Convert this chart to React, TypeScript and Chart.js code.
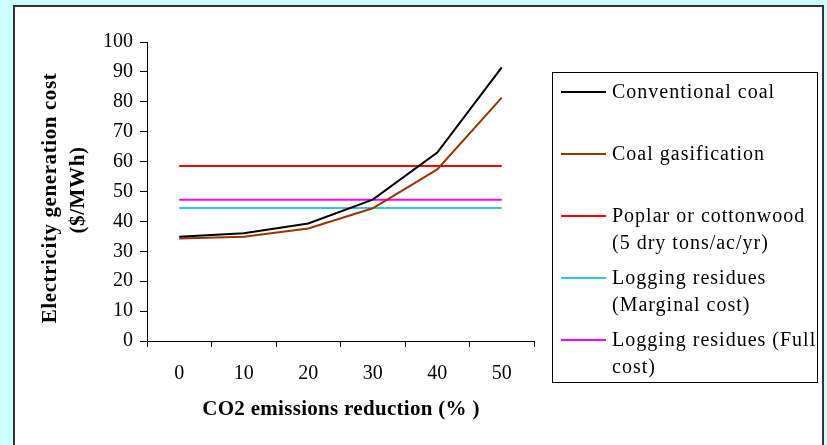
import React, { useEffect, useRef } from "react";
import { Chart, registerables } from "chart.js";

Chart.register(...registerables);

const categories = ["0", "10", "20", "30", "40", "50"];
const conventionalCoal = [34.9, 36, 39.3, 47.3, 63, 91.5];
const coalGasification = [34.3, 34.9, 37.6, 44.4, 57.4, 81.4];
const poplarCottonwood = [58.5, 58.5, 58.5, 58.5, 58.5, 58.5];
const loggingMarginal = [44.5, 44.5, 44.5, 44.5, 44.5, 44.5];
const loggingFull = [47.2, 47.2, 47.2, 47.2, 47.2, 47.2];

const seriesLabels = [
  "Conventional coal",
  "Coal gasification",
  "Poplar or cottonwood (5 dry tons/ac/yr)",
  "Logging residues (Marginal cost)",
  "Logging residues (Full cost)",
];
const legendRows = [
  ["Conventional coal"],
  ["Coal gasification"],
  ["Poplar or cottonwood", "(5 dry tons/ac/yr)"],
  ["Logging residues", "(Marginal cost)"],
  ["Logging residues (Full", "cost)"],
];
const seriesColors = ["#000000", "#993300", "#ff0000", "#33cccc", "#ff00ff"];
const yTitleLines = ["Electricity generation cost", "($/MWh)"];
const xTitle = "CO2 emissions reduction (% )";

const FONT = "'Liberation Serif', 'Times New Roman', serif";

const overlayPlugin = {
  id: "overlay",
  afterDraw(chart: any) {
    const ctx = chart.ctx;
    ctx.save();
    ctx.fillStyle = "#000";
    ctx.textAlign = "center";
    ctx.textBaseline = "middle";
    // y title (two rotated lines)
    ctx.font = `bold 21px ${FONT}`;
    (ctx as any).letterSpacing = "0.6px";
    ctx.save();
    ctx.translate(51, 198);
    ctx.rotate(-Math.PI / 2);
    ctx.fillText(yTitleLines[0], 0, 0);
    ctx.fillText(yTitleLines[1], 8, 28);
    ctx.restore();
    // x title
    (ctx as any).letterSpacing = "0.3px";
    ctx.fillText(xTitle, 341, 410);

    // legend
    ctx.strokeStyle = "#000";
    ctx.lineWidth = 1;
    ctx.strokeRect(552.5, 72.5, 265, 310);
    const rowY = [92, 154, 216, 278, 340];
    ctx.font = `20px ${FONT}`;
    (ctx as any).letterSpacing = "1px";
    ctx.textAlign = "left";
    chart.data.datasets.forEach((ds: any, i: number) => {
      const y = rowY[i];
      ctx.strokeStyle = ds.borderColor;
      ctx.lineWidth = 2;
      ctx.beginPath();
      ctx.moveTo(561, y);
      ctx.lineTo(606, y);
      ctx.stroke();
      ctx.fillStyle = "#000";
      legendRows[i].forEach((t, j) => ctx.fillText(t, 612, y + 1 + j * 27));
    });
    ctx.restore();
  },
};

export default function App() {
  const ref = useRef<HTMLCanvasElement>(null);
  useEffect(() => {
    const series = [conventionalCoal, coalGasification, poplarCottonwood, loggingMarginal, loggingFull];
    const chart = new Chart(ref.current!, {
      type: "line",
      data: {
        labels: categories,
        datasets: series.map((d, i) => ({
          label: seriesLabels[i],
          data: d,
          borderColor: seriesColors[i],
          backgroundColor: seriesColors[i],
          borderWidth: 2,
          pointRadius: 0,
          tension: 0,
          fill: false,
        })),
      },
      options: {
        animation: false,
        responsive: true,
        maintainAspectRatio: false,
        layout: { padding: { left: 0, top: 42, right: 293, bottom: 0 } },
        plugins: { legend: { display: false }, tooltip: { enabled: false } },
        scales: {
          x: {
            offset: true,
            grid: { offset: true, drawOnChartArea: false, tickLength: 6, color: "#000" },
            border: { color: "#000", width: 1 },
            ticks: { color: "#000", font: { family: FONT, size: 20 }, padding: 15 },
            afterFit: (s: any) => { s.height = 104; },
          },
          y: {
            min: 0,
            max: 100,
            ticks: { stepSize: 10, color: "#000", font: { family: FONT, size: 20 }, padding: 7 },
            grid: { drawOnChartArea: false, tickLength: 7, color: "#000" },
            border: { color: "#000", width: 1 },
            afterFit: (s: any) => { s.width = 147; },
          },
        },
      },
      plugins: [overlayPlugin],
    });
    return () => chart.destroy();
  }, []);

  return (
    <div style={{ position: "absolute", left: 0, top: 0, width: 827, height: 445, background: "#ccffff", overflow: "hidden" }}>
      <div style={{ position: "absolute", left: 13, top: 5, width: 811, height: 470, boxSizing: "border-box", border: "2px solid #333", background: "#fff" }} />
      <div style={{ position: "absolute", left: 0, top: 0, width: 827, height: 445 }}>
        <canvas ref={ref} />
      </div>
    </div>
  );
}
